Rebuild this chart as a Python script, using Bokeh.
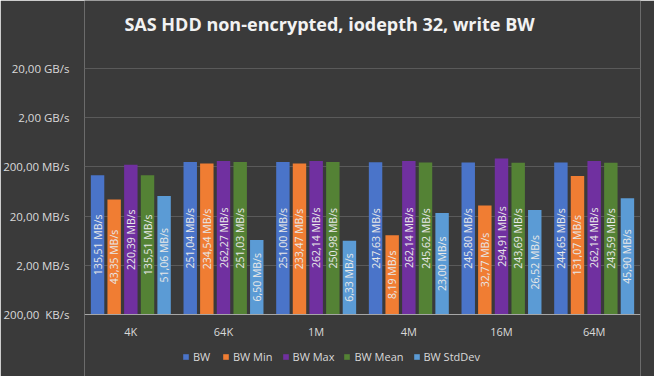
import math
from bokeh.plotting import figure
from bokeh.models import FactorRange, FixedTicker, Legend, LegendItem, Label, ColumnDataSource, Range1d
from bokeh.transform import dodge
from bokeh.core.properties import value
from bokeh.embed import file_html
from bokeh.resources import INLINE

categories = ["4K", "64K", "1M", "4M", "16M", "64M"]
bw = [135.51, 251.04, 251.00, 247.63, 245.80, 244.65]
bw_min = [43.35, 234.54, 233.47, 8.19, 32.77, 131.07]
bw_max = [220.39, 262.27, 262.14, 262.14, 294.91, 262.14]
bw_mean = [135.51, 251.03, 250.98, 245.62, 243.69, 243.59]
bw_std = [51.06, 6.50, 6.33, 23.00, 26.52, 45.90]
series_names = ["BW", "BW Min", "BW Max", "BW Mean", "BW StdDev"]
colors = ["#4a74c9", "#f07d33", "#7030a0", "#548235", "#5b9bd5"]
y_ticks = [0.2, 2, 20, 200, 2000, 20000]
y_tick_labels = ["200,00 \u00a0KB/s", "2,00 MB/s", "20,00 MB/s", "200,00 MB/s", "2,00 GB/s", "20,00 GB/s"]

BASE = 0.2
TOP = 20000
BG = "#3a3a3a"
FONT = "Open Sans"

# plot area: 246 px for 5 decades; extend the frame over the title (68 px) and legend (62 px) bands
PX_PER_DEC = 246 / 5
y_lo = BASE / 10 ** (62 / PX_PER_DEC)
y_hi = TOP * 10 ** (68 / PX_PER_DEC)

p = figure(x_range=FactorRange(factors=categories, range_padding=0),
           y_range=Range1d(y_lo, y_hi), y_axis_type="log",
           width=654, height=376, output_backend="svg", toolbar_location=None,
           background_fill_color=BG, border_fill_color=BG, outline_line_color=None,
           min_border_left=80, min_border_right=14, min_border_top=0, min_border_bottom=0)

offsets = [-0.359, -0.18, 0.0, 0.18, 0.359]
all_series = [bw, bw_min, bw_max, bw_mean, bw_std]
renderers = []
for name, vals, col, off in zip(series_names, all_series, colors, offsets):
    src = ColumnDataSource(dict(
        cat=categories, top=vals,
        ymid=[math.sqrt(BASE * v) for v in vals],
        label=[f"{v:.2f}".replace(".", ",") + " MB/s" for v in vals]))
    r = p.vbar(x=dodge("cat", off, range=p.x_range), top="top", bottom=BASE, width=0.145,
               source=src, fill_color=col, line_color=None)
    renderers.append(r)
    p.text(x=dodge("cat", off, range=p.x_range), y="ymid", text="label", source=src,
           angle=math.pi / 2, text_align="center", text_baseline="middle",
           text_font=value(FONT), text_font_size="10.5px", text_color="#e8e8e8")

p.yaxis.ticker = FixedTicker(ticks=y_ticks)
p.yaxis.major_label_overrides = {t: l for t, l in zip(y_ticks, y_tick_labels)}
p.yaxis.axis_line_color = None
p.yaxis.major_tick_line_color = None
p.yaxis.minor_tick_line_color = None
p.yaxis.major_label_standoff = 9
p.yaxis.major_label_text_color = "#d9d9d9"
p.yaxis.major_label_text_font = FONT
p.yaxis.major_label_text_font_size = "11.5px"

p.xaxis.fixed_location = BASE
p.xaxis.axis_line_color = "#a6a6a6"
p.xaxis.major_tick_line_color = None
p.xaxis.minor_tick_line_color = None
p.xaxis.major_label_text_color = "#d9d9d9"
p.xaxis.major_label_text_font = FONT
p.xaxis.major_label_text_font_size = "11px"
p.xaxis.major_label_standoff = 3

p.xgrid.grid_line_color = None
p.ygrid.grid_line_color = "#5a5a5a"
p.ygrid.ticker = FixedTicker(ticks=y_ticks)

legend = Legend(items=[LegendItem(label=n, renderers=[r]) for n, r in zip(series_names, renderers)],
                orientation="horizontal", location=(98, 12),
                background_fill_alpha=0, border_line_color=None,
                label_text_color="#d9d9d9", label_text_font=FONT, label_text_font_size="11px",
                glyph_width=7, glyph_height=7, label_standoff=4, spacing=9, margin=0, padding=2,
                label_height=12)
p.add_layout(legend)

title = Label(x=245, y=353, x_units="screen", y_units="screen",
              text="SAS HDD non-encrypted, iodepth 32, write BW",
              text_align="center", text_baseline="middle",
              text_font=FONT, text_font_size="18px", text_font_style="bold",
              text_color="#f2f2f2")
p.add_layout(title)

open("out.html", "w").write(file_html(p, INLINE))
